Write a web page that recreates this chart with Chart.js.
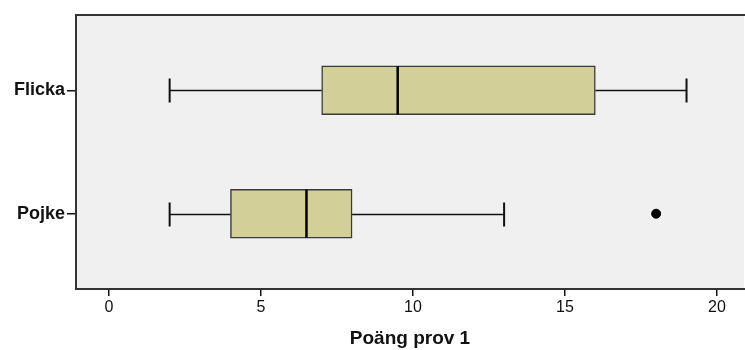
<!DOCTYPE html>
<html>
<head>
<meta charset="utf-8">
<script src="https://cdn.jsdelivr.net/npm/chart.js@4"></script>
<style>
  body { margin: 0; background: #fff; }
  #wrap { width: 745px; height: 350px; }
</style>
</head>
<body>
<div id="wrap"><canvas id="myChart" width="745" height="350"></canvas></div>
<script>
// grupper (uppifrån och ned)
let grupper = ["Flicka", "Pojke"];
let minVal = [2, 2];
let q1Val = [7, 4];
let medianVal = [9.5, 6.5];
let q3Val = [16, 8];
let maxVal = [19, 13];
// extremvärden
let outlierGrupp = [2];
let outlierVal = [18];
let xTicks = [0, 5, 10, 15, 20];

let boxData = grupper.map(function (g, i) {
  return { y: i + 1, x: [q1Val[i], q3Val[i]] };
});
let outData = outlierVal.map(function (v, i) {
  return { y: outlierGrupp[i], x: v };
});

// whiskers, median, bakgrund och ram
const boxPlugin = {
  id: "boxPlugin",
  beforeDraw(chart) {
    const a = chart.chartArea;
    const ctx = chart.ctx;
    ctx.save();
    ctx.fillStyle = "#f0f0f0";
    ctx.fillRect(a.left, a.top, a.right - a.left, a.bottom - a.top);
    ctx.restore();
  },
  beforeDatasetsDraw(chart) {
    const ctx = chart.ctx;
    const xs = chart.scales.x;
    const ys = chart.scales.y;
    ctx.save();
    for (let i = 0; i < grupper.length; i++) {
      let y = Math.round(ys.getPixelForValue(i + 1)) + 0.5;
      ctx.strokeStyle = "#111";
      ctx.lineWidth = 1.3;
      ctx.beginPath();
      ctx.moveTo(xs.getPixelForValue(minVal[i]), y);
      ctx.lineTo(xs.getPixelForValue(q1Val[i]), y);
      ctx.moveTo(xs.getPixelForValue(q3Val[i]), y);
      ctx.lineTo(xs.getPixelForValue(maxVal[i]), y);
      ctx.stroke();
      // caps
      ctx.lineWidth = 2;
      ctx.beginPath();
      let xa = xs.getPixelForValue(minVal[i]);
      let xb = xs.getPixelForValue(maxVal[i]);
      ctx.moveTo(xa, y - 12);
      ctx.lineTo(xa, y + 12);
      ctx.moveTo(xb, y - 12);
      ctx.lineTo(xb, y + 12);
      ctx.stroke();
    }
    ctx.restore();
  },
  afterDatasetsDraw(chart) {
    const ctx = chart.ctx;
    const xs = chart.scales.x;
    const ys = chart.scales.y;
    ctx.save();
    ctx.strokeStyle = "#000";
    ctx.lineWidth = 2.5;
    for (let i = 0; i < grupper.length; i++) {
      let y = ys.getPixelForValue(i + 1);
      let x = xs.getPixelForValue(medianVal[i]);
      ctx.beginPath();
      ctx.moveTo(x, y - 24);
      ctx.lineTo(x, y + 24);
      ctx.stroke();
    }
    const a = chart.chartArea;
    ctx.strokeStyle = "#333";
    ctx.lineWidth = 2;
    ctx.beginPath();
    ctx.moveTo(a.right + 2, a.top);
    ctx.lineTo(a.left, a.top);
    ctx.lineTo(a.left, a.bottom);
    ctx.lineTo(a.right + 2, a.bottom);
    ctx.stroke();
    ctx.restore();
  }
};

let chart = new Chart("myChart", {
  type: "bar",
  data: {
    datasets: [{
      label: "box",
      data: boxData,
      backgroundColor: "#d3cf98",
      borderColor: "#3a3a3a",
      borderWidth: 1.5,
      borderSkipped: false,
      barThickness: 49
    },
    {
      label: "extremvärden",
      type: "scatter",
      data: outData,
      backgroundColor: "#000",
      borderColor: "#000",
      pointRadius: 4.5
    }]
  },
  options: {
    indexAxis: "y",
    responsive: false,
    animation: false,
    layout: { autoPadding: false, padding: { top: 15, right: 1, left: 0, bottom: 0 } },
    plugins: {
      legend: { display: false },
      tooltip: { enabled: false }
    },
    scales: {
      x: {
        type: "linear",
        min: -1.08,
        max: 20.89,
        afterBuildTicks: function (s) {
          s.ticks = xTicks.map(function (v) { return { value: v }; });
        },
        afterFit: function (s) {
          s.height = 61;
          s.paddingLeft = 0;
          s.paddingRight = 0;
        },
        border: { display: false },
        grid: { drawOnChartArea: false, tickLength: 7, color: "#111", lineWidth: 1.5 },
        ticks: {
          color: "#111",
          padding: 2,
          font: { family: "Liberation Sans, Arial, sans-serif", size: 16 }
        },
        title: {
          display: true,
          text: "Poäng prov 1",
          color: "#111",
          padding: { top: 4, bottom: 0 },
          font: { family: "Liberation Sans, Arial, sans-serif", size: 19, weight: "bold" }
        }
      },
      y: {
        type: "linear",
        reverse: true,
        offset: false,
        min: 0.39,
        max: 2.61,
        afterBuildTicks: function (s) {
          s.ticks = grupper.map(function (g, i) { return { value: i + 1 }; });
        },
        afterFit: function (s) {
          s.width = 76;
          s.paddingTop = 0;
          s.paddingBottom = 0;
        },
        border: { display: false },
        grid: { offset: false, drawOnChartArea: false, tickLength: 9, color: "#111", lineWidth: 1.5 },
        ticks: {
          color: "#111",
          padding: 2,
          callback: function (v) { return grupper[v - 1]; },
          font: { family: "Liberation Sans, Arial, sans-serif", size: 18, weight: "bold" }
        }
      }
    }
  },
  plugins: [boxPlugin]
});
</script>
</body>
</html>
